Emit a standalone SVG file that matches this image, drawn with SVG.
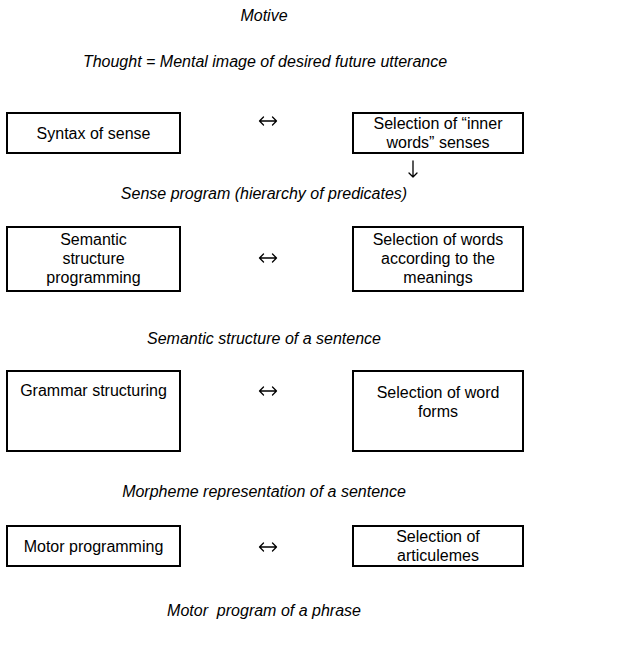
<svg xmlns="http://www.w3.org/2000/svg" width="641" height="658" viewBox="0 0 641 658">
<style>
.bg{fill:#fff}
.box{fill:#fff;stroke:#000;stroke-width:2}
.t{font-family:"Liberation Sans",Arial,sans-serif;font-size:16px;fill:#000;text-anchor:middle}
.i{font-style:italic}
.arr{fill:none;stroke:#000;stroke-width:1.3;stroke-linecap:round;stroke-linejoin:round}
</style>
<defs>
<path id="lr" class="arr" d="M-8.5,0 H8.5 M-4.5,-4 L-8.5,0 L-4.5,4 M4.5,-4 L8.5,0 L4.5,4"/>
</defs>
<rect class="bg" x="0" y="0" width="641" height="658"/>
<g id="motive"><text class="t i" x="264" y="21">Motive</text></g>
<g id="thought"><text class="t i" x="265" y="67">Thought = Mental image of desired future utterance</text></g>

<g id="syntax-of-sense"><rect class="box" x="7" y="113" width="173" height="40"/><text class="t" x="93.5" y="139">Syntax of sense</text></g>
<g id="selection-inner-words"><rect class="box" x="353" y="113" width="170" height="40"/><text class="t" x="438" y="129">Selection of “inner</text><text class="t" x="438" y="148">words” senses</text></g>

<g id="sense-program"><text class="t i" x="264" y="199">Sense program (hierarchy of predicates)</text></g>

<g id="semantic-structure-programming"><rect class="box" x="7" y="227" width="173" height="64"/><text class="t" x="93.5" y="245">Semantic</text><text class="t" x="93.5" y="264">structure</text><text class="t" x="93.5" y="283">programming</text></g>
<g id="selection-words-meanings"><rect class="box" x="353" y="227" width="170" height="64"/><text class="t" x="438" y="245">Selection of words</text><text class="t" x="438" y="264">according to the</text><text class="t" x="438" y="283">meanings</text></g>

<g id="semantic-structure-sentence"><text class="t i" x="264" y="344">Semantic structure of a sentence</text></g>

<g id="grammar-structuring"><rect class="box" x="7" y="371" width="173" height="80"/><text class="t" x="93.5" y="396">Grammar structuring</text></g>
<g id="selection-word-forms"><rect class="box" x="353" y="371" width="170" height="80"/><text class="t" x="438" y="398">Selection of word</text><text class="t" x="438" y="417">forms</text></g>

<g id="morpheme-representation"><text class="t i" x="264" y="497">Morpheme representation of a sentence</text></g>

<g id="motor-programming"><rect class="box" x="7" y="526" width="173" height="40"/><text class="t" x="93.5" y="552">Motor programming</text></g>
<g id="selection-articulemes"><rect class="box" x="353" y="526" width="170" height="40"/><text class="t" x="438" y="542">Selection of</text><text class="t" x="438" y="561">articulemes</text></g>

<g id="motor-program-phrase"><text class="t i" x="264" y="616" xml:space="preserve">Motor  program of a phrase</text></g>

<g id="connectors">
<use href="#lr" x="268" y="121"/>
<path class="arr" d="M413,161 V177 M409,173 L413,177 L417,173"/>
<use href="#lr" x="268" y="258"/>
<use href="#lr" x="268" y="391"/>
<use href="#lr" x="268" y="547"/>
</g>
</svg>
